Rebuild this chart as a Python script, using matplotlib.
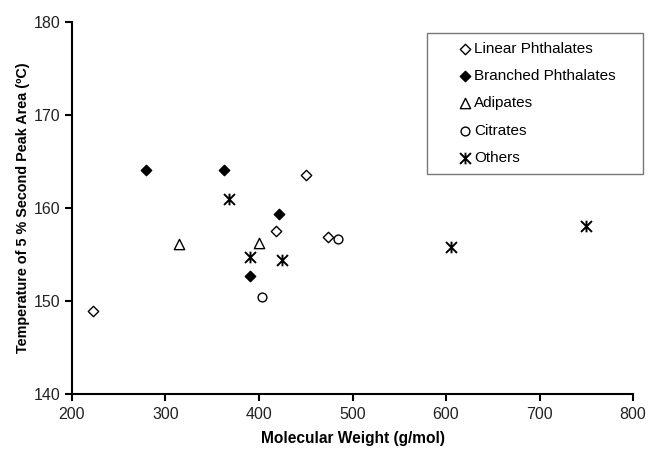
import matplotlib
matplotlib.use("Agg")
import matplotlib.pyplot as plt
from matplotlib.path import Path

plt.rcParams['font.family'] = ['Liberation Sans', 'DejaVu Sans']

# data
linear_mw = [222, 418, 450, 474]
linear_t = [148.9, 157.5, 163.6, 156.9]
branched_mw = [279, 363, 421, 390]
branched_t = [164.1, 164.1, 159.4, 152.7]
adipate_mw = [314, 400]
adipate_t = [156.1, 156.3]
citrate_mw = [403, 485]
citrate_t = [150.5, 156.7]
other_mw = [368, 390, 425, 605, 750]
other_t = [161.0, 154.7, 154.4, 155.8, 158.1]

xticks = [200, 300, 400, 500, 600, 700, 800]
yticks = [140, 150, 160, 170, 180]

# x with a vertical bar through it
star = Path([(0, -0.85), (0, 0.85), (-0.8, -0.8), (0.8, 0.8), (-0.8, 0.8), (0.8, -0.8)],
            [Path.MOVETO, Path.LINETO, Path.MOVETO, Path.LINETO, Path.MOVETO, Path.LINETO])

fig = plt.figure(figsize=(6.48, 4.51), dpi=100)
ax = fig.add_axes([0.111, 0.126, 0.866, 0.825])

ax.scatter(linear_mw, linear_t, marker='D', s=28, facecolors='white',
           edgecolors='black', linewidths=1.0, label='Linear Phthalates')
ax.scatter(branched_mw, branched_t, marker='D', s=28, facecolors='black',
           edgecolors='black', linewidths=1.0, label='Branched Phthalates')
ax.scatter(adipate_mw, adipate_t, marker='^', s=55, facecolors='white',
           edgecolors='black', linewidths=1.0, label='Adipates')
ax.scatter(citrate_mw, citrate_t, marker='o', s=40, facecolors='white',
           edgecolors='black', linewidths=1.0, label='Citrates')
ax.scatter(other_mw, other_t, marker=star, s=70, color='black',
           linewidths=1.4, label='Others')

ax.set_xlim(200, 800)
ax.set_ylim(140, 180)
ax.set_xticks(xticks)
ax.set_yticks(yticks)
ax.spines['top'].set_visible(False)
ax.spines['right'].set_visible(False)
for sp in ['left', 'bottom']:
    ax.spines[sp].set_linewidth(1.5)
ax.tick_params(direction='out', length=5, width=1.5, labelsize=11.5,
               colors='black', labelcolor='#222222')
ax.tick_params(axis='x', pad=4)
ax.tick_params(axis='y', pad=3)

ax.set_xlabel('Molecular Weight (g/mol)', fontsize=11.2, fontweight='bold', labelpad=7)
ax.set_ylabel('Temperature of 5 % Second Peak Area (ºC)', fontsize=10.4,
              fontweight='bold', labelpad=3)

# legend spans a fixed box, handles shifted right with a wide handle
leg = ax.legend(loc='upper left', bbox_to_anchor=(427 / 648, 1 - 174 / 451, 216 / 648, 141 / 451),
                bbox_transform=fig.transFigure, mode='expand', fontsize=11,
                frameon=True, fancybox=False, edgecolor='#555555',
                handlelength=3.8, handletextpad=-1.3, labelspacing=0.86,
                borderpad=0.6, borderaxespad=0)
leg.get_frame().set_linewidth(1.0)

fig.savefig('out.png', dpi=100)
